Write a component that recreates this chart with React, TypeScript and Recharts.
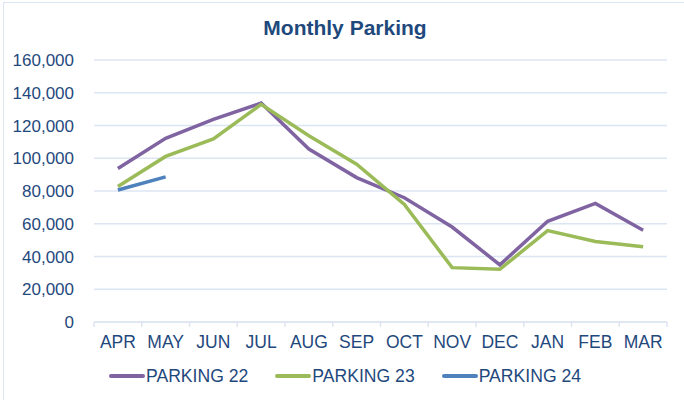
import React from "react";
import { LineChart, Line, XAxis, YAxis, CartesianGrid, Legend } from "recharts";

const months = ["APR", "MAY", "JUN", "JUL", "AUG", "SEP", "OCT", "NOV", "DEC", "JAN", "FEB", "MAR"];
const parking22 = [93700, 112200, 123700, 133700, 105600, 88200, 75900, 58000, 34900, 61500, 72400, 56000];
const parking23 = [82700, 101100, 111800, 132900, 113800, 96400, 71800, 33200, 32200, 55800, 49200, 46000];
const parking24: (number | null)[] = [80600, 88600, null, null, null, null, null, null, null, null, null, null];
const yTicks = [0, 20000, 40000, 60000, 80000, 100000, 120000, 140000, 160000];

const data = months.map((m, i) => ({
  month: m,
  p22: parking22[i],
  p23: parking23[i],
  p24: parking24[i],
}));

const TEXT = "#1F497D";
const GRID = "#DCE6F2";
const FONT = "'Liberation Sans', Arial, sans-serif";

const series = [
  { key: "p22", name: "PARKING 22", color: "#8064A2" },
  { key: "p23", name: "PARKING 23", color: "#9BBB59" },
  { key: "p24", name: "PARKING 24", color: "#4F81BD" },
];

const XTick = (props: any) => {
  const { x, y, payload, index } = props;
  const off = payload.offset || 0;
  return (
    <g>
      <line x1={x - off} x2={x - off} y1={y - 8} y2={y - 3} stroke={GRID} strokeWidth={1.5} />
      {index === months.length - 1 && (
        <line x1={x + off} x2={x + off} y1={y - 8} y2={y - 3} stroke={GRID} strokeWidth={1.5} />
      )}
      <text x={x} y={y + 18} textAnchor="middle" fill={TEXT} fontSize={17.5} fontFamily={FONT}>
        {payload.value}
      </text>
    </g>
  );
};

const LegendContent = () => (
  <div
    style={{
      display: "flex",
      justifyContent: "flex-start",
      paddingLeft: 109,
      paddingTop: 4,
      fontFamily: FONT,
      fontSize: 17.6,
      lineHeight: "20px",
      color: TEXT,
    }}
  >
    {series.map((s) => (
      <div key={s.key} style={{ display: "flex", alignItems: "center", marginRight: 27 }}>
        <svg width={36} height={10} style={{ marginRight: 1 }}>
          <line x1={2} x2={34} y1={5} y2={5} stroke={s.color} strokeWidth={4} strokeLinecap="round" />
        </svg>
        <span>{s.name}</span>
      </div>
    ))}
  </div>
);

export default function App() {
  return (
    <div style={{ position: "fixed", left: 0, top: 0, width: 684, height: 400, background: "#fff", overflow: "hidden" }}>
      <div
        style={{
          position: "absolute",
          left: 3,
          top: 2,
          width: 690,
          height: 410,
          border: "1px solid #DCE6F2",
          boxSizing: "border-box",
        }}
      />
      <div
        style={{
          position: "absolute",
          left: 3,
          top: 16,
          width: 684,
          textAlign: "center",
          fontFamily: FONT,
          fontWeight: "bold",
          fontSize: 21,
          lineHeight: "24px",
          color: TEXT,
        }}
      >
        Monthly Parking
      </div>
      <div style={{ position: "absolute", left: 0, top: 0 }}>
        <LineChart width={684} height={400} data={data} margin={{ top: 60, right: 17, left: 0, bottom: 10 }}>
          <CartesianGrid vertical={false} stroke={GRID} strokeWidth={1.5} />
          <XAxis
            dataKey="month"
            scale="band"
            axisLine={{ stroke: GRID, strokeWidth: 1.5 }}
            tickLine={false}
            tick={<XTick />}
            interval={0}
            height={40}
          />
          <YAxis
            width={94}
            domain={[0, 160000]}
            ticks={yTicks}
            axisLine={false}
            tickLine={false}
            tickMargin={14}
            tickFormatter={(v: number) => v.toLocaleString("en-US")}
            tick={{ fill: TEXT, fontSize: 17, fontFamily: FONT }}
          />
          <Legend verticalAlign="bottom" content={<LegendContent />} height={28} />
          {series.map((s) => (
            <Line
              key={s.key}
              type="linear"
              dataKey={s.key}
              name={s.name}
              stroke={s.color}
              strokeWidth={3.5}
              dot={false}
              activeDot={false}
              isAnimationActive={false}
              connectNulls={false}
            />
          ))}
        </LineChart>
      </div>
    </div>
  );
}
